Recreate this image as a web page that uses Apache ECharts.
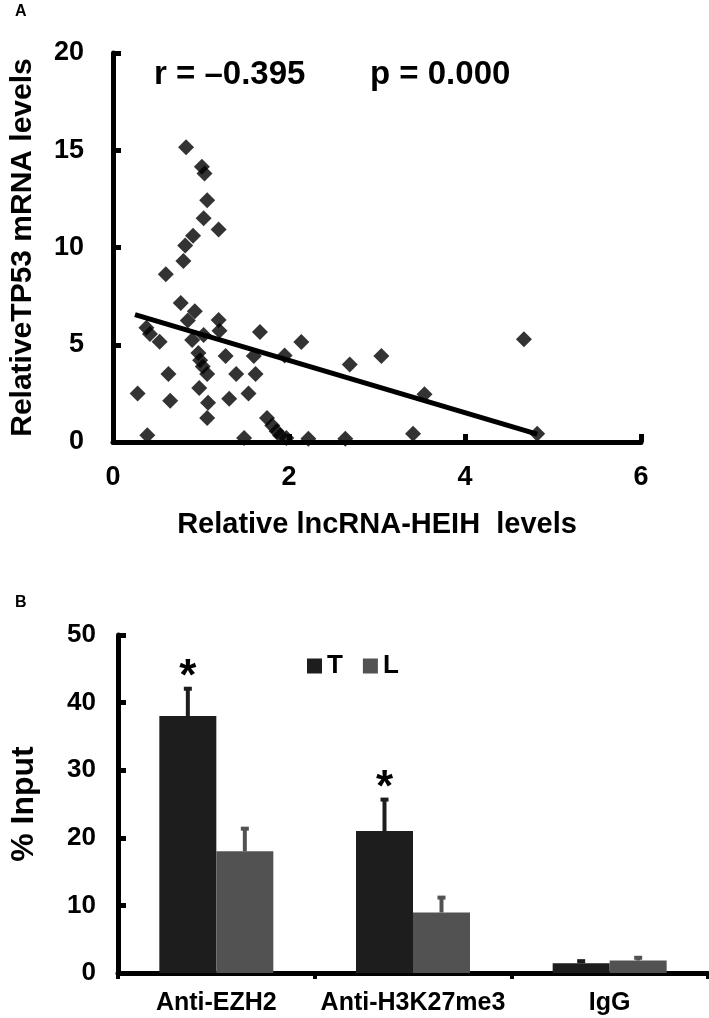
<!DOCTYPE html>
<html>
<head>
<meta charset="utf-8">
<script src="https://cdn.jsdelivr.net/npm/echarts@6/dist/echarts.min.js"></script>
<style>
html,body{margin:0;padding:0;background:#fff;}
#chart{width:709px;height:1018px;}
</style>
</head>
<body>
<div id="chart"></div>
<script>
// ---------- Panel A data ----------
const heihLevels = [0.83,1.01,1.04,1.07,1.03,1.20,0.91,0.82,0.80,0.60,0.77,0.93,0.85,1.20,1.21,0.38,0.42,0.53,0.90,1.03,1.67,2.14,4.67,0.97,0.99,1.02,1.07,1.28,1.60,1.95,3.05,2.69,0.63,1.40,1.62,0.98,0.28,0.65,1.08,1.32,1.54,3.54,1.07,1.75,1.81,1.86,1.90,1.97,0.39,1.49,2.22,2.64,3.41,4.82];
const tp53Levels = [15.15,14.15,13.8,12.43,11.5,10.92,10.6,10.1,9.3,8.62,7.15,6.72,6.25,6.27,5.72,5.88,5.55,5.15,5.24,5.5,5.65,5.14,5.28,4.57,4.2,3.88,3.5,4.42,4.42,4.45,4.42,3.99,3.5,3.5,3.5,2.78,2.5,2.12,2.02,2.23,2.49,2.45,1.24,1.24,0.85,0.55,0.33,0.2,0.35,0.2,0.17,0.17,0.43,0.43];
const trendX = [0.25, 4.82];
const trendY = [6.55, 0.4];
const xTicksA = [0, 6, 2];     // min, max, interval
const yTicksA = [0, 20, 5];
const statR = 'r = \u20130.395';
const statP = 'p = 0.000';

// ---------- Panel B data ----------
const categories = ['Anti-EZH2', 'Anti-H3K27me3', 'IgG'];
const seriesNames = ['T', 'L'];
const valuesT = [38.0, 21.0, 1.45];
const valuesL = [18.0, 8.95, 1.85];
const errorsT = [4.2, 4.8, 0.45];
const errorsL = [3.5, 2.35, 0.55];
const significantT = [true, true, false];
const yTicksB = [0, 50, 10];

const colorT = '#1d1d1d';
const colorL = '#525252';
const FONT = "'Liberation Sans', Arial, Helvetica, sans-serif";
const BAR_W = 57;

const scatterData = heihLevels.map((x, i) => [x, tp53Levels[i]]);
const trendData = trendX.map((x, i) => [x, trendY[i]]);

function errSeries(name, vals, errs, offset, color, sig) {
  return {
    type: 'custom', name: name, xAxisIndex: 1, yAxisIndex: 1, z: 5,
    data: vals.map((v, i) => [i, v, errs[i], sig ? (sig[i] ? 1 : 0) : 0]),
    renderItem: function (params, api) {
      const i = api.value(0), v = api.value(1), e = api.value(2), s = api.value(3);
      const base = api.coord([i, v]);
      const top = api.coord([i, v + e]);
      const x = base[0] + offset;
      const children = [
        { type: 'line', shape: { x1: x, y1: base[1], x2: x, y2: top[1] }, style: { stroke: color, lineWidth: 4 } },
        { type: 'rect', shape: { x: x - 4, y: top[1] - 1, width: 8, height: 4 }, style: { fill: color } }
      ];
      if (s) {
        children.push({ type: 'text', x: x, y: top[1] - 32,
          style: { text: '*', fill: '#000', font: 'bold 44px ' + FONT, textAlign: 'center', textVerticalAlign: 'top' } });
      }
      return { type: 'group', children: children };
    }
  };
}

const axisLine = { show: true, lineStyle: { color: '#000', width: 5 } };
const labelStyle = (size) => ({ color: '#000', fontWeight: 'bold', fontSize: size, fontFamily: FONT });

const option = {
  animation: false,
  backgroundColor: '#fff',
  textStyle: { fontFamily: FONT },
  grid: [
    { left: 109, top: 53, width: 532, height: 389 },
    { left: 112, top: 635, width: 596, height: 338 }
  ],
  xAxis: [
    { type: 'value', gridIndex: 0, min: xTicksA[0], max: xTicksA[1], interval: xTicksA[2],
      axisLine: axisLine, splitLine: { show: false },
      axisTick: { show: true, inside: true, length: 8, lineStyle: { color: '#000', width: 5 } },
      axisLabel: Object.assign(labelStyle(27), { margin: 22 }),
      name: 'Relative lncRNA-HEIH  levels', nameLocation: 'middle', nameGap: 68,
      nameTextStyle: labelStyle(29) },
    { type: 'category', gridIndex: 1, data: categories,
      axisLine: axisLine, splitLine: { show: false },
      axisTick: { show: true, inside: false, length: 6, alignWithLabel: false, lineStyle: { color: '#000', width: 4 } },
      axisLabel: Object.assign(labelStyle(25), { margin: 18, interval: 0, hideOverlap: false }) }
  ],
  yAxis: [
    { type: 'value', gridIndex: 0, min: yTicksA[0], max: yTicksA[1], interval: yTicksA[2],
      axisLine: axisLine, splitLine: { show: false },
      axisTick: { show: true, inside: true, length: 8, lineStyle: { color: '#000', width: 5 } },
      axisLabel: Object.assign(labelStyle(27), { margin: 29 }),
      name: 'RelativeTP53 mRNA levels', nameLocation: 'middle', nameGap: 75,
      nameTextStyle: labelStyle(30) },
    { type: 'value', gridIndex: 1, min: yTicksB[0], max: yTicksB[1], interval: yTicksB[2],
      axisLine: axisLine, splitLine: { show: false },
      axisTick: { show: true, inside: true, length: 8, lineStyle: { color: '#000', width: 5 } },
      axisLabel: Object.assign(labelStyle(26), { margin: 22 }),
      name: '% Input', nameLocation: 'middle', nameGap: 78,
      nameTextStyle: labelStyle(32) }
  ],
  legend: {
    data: seriesNames, left: 302, top: 648, icon: 'rect', itemWidth: 15, itemHeight: 15, itemGap: 20,
    textStyle: labelStyle(26), selectedMode: false
  },
  graphic: [
    { type: 'text', left: 15, top: 4, style: { text: 'A', font: 'bold 16px ' + FONT, fill: '#000' } },
    { type: 'text', left: 15, top: 595, style: { text: 'B', font: 'bold 16px ' + FONT, fill: '#000' } },
    { type: 'text', left: 154, top: 58, style: { text: statR, font: 'bold 33px ' + FONT, fill: '#000' } },
    { type: 'text', left: 370, top: 58, style: { text: statP, font: 'bold 33px ' + FONT, fill: '#000' } }
  ],
  series: [
    { type: 'scatter', xAxisIndex: 0, yAxisIndex: 0, data: scatterData, symbol: 'diamond', symbolSize: 16,
      itemStyle: { color: '#000' }, z: 3 },
    { type: 'line', xAxisIndex: 0, yAxisIndex: 0, data: trendData, symbol: 'none',
      lineStyle: { color: '#000', width: 5 }, z: 4 },
    { type: 'bar', name: 'T', xAxisIndex: 1, yAxisIndex: 1, data: valuesT, barWidth: BAR_W, barGap: '0%',
      itemStyle: { color: colorT } },
    { type: 'bar', name: 'L', xAxisIndex: 1, yAxisIndex: 1, data: valuesL, barWidth: BAR_W, barGap: '0%',
      itemStyle: { color: colorL } },
    errSeries('errT', valuesT, errorsT, -BAR_W / 2, colorT, significantT),
    errSeries('errL', valuesL, errorsL, BAR_W / 2, colorL, null)
  ]
};

const chart = echarts.init(document.getElementById('chart'), null, { renderer: 'canvas' });
chart.setOption(option);
</script>
</body>
</html>
